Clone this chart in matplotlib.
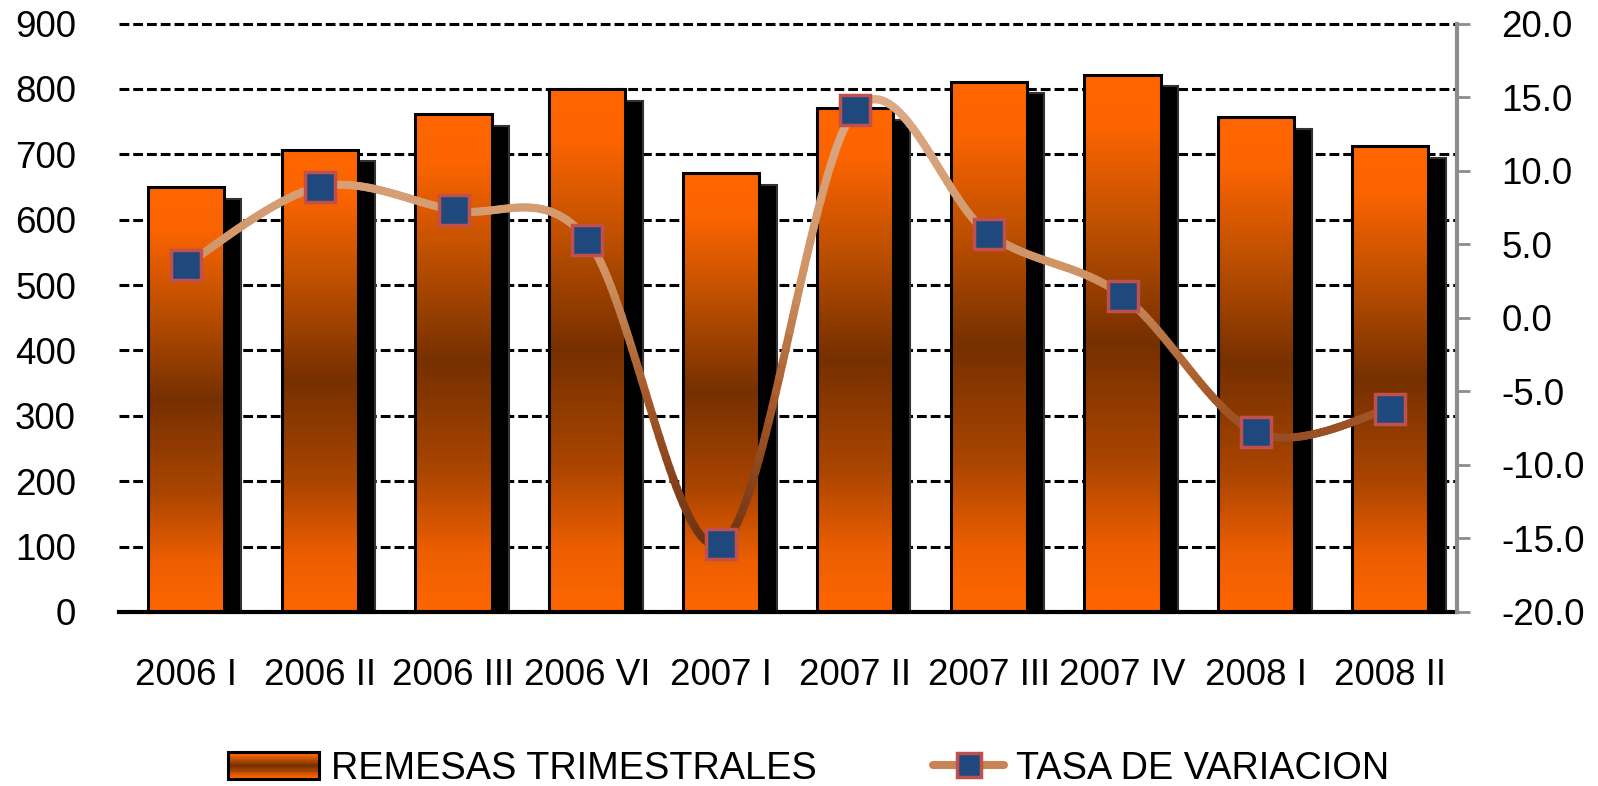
import numpy as np
import matplotlib
matplotlib.use("Agg")
import matplotlib.pyplot as plt
from matplotlib.colors import LinearSegmentedColormap
from matplotlib.collections import LineCollection
from matplotlib.patches import Rectangle
from matplotlib.lines import Line2D
from matplotlib.legend_handler import HandlerBase

plt.rcParams['font.family'] = ['Liberation Sans', 'DejaVu Sans']
plt.rcParams['font.size'] = 26.5

# data
periods = ['2006 I', '2006 II', '2006 III', '2006 VI', '2007 I',
           '2007 II', '2007 III', '2007 IV', '2008 I', '2008 II']
remesas = [650, 707, 762, 800, 671, 771, 811, 822, 757, 712]
tasa = [3.6, 8.9, 7.3, 5.3, -15.4, 14.1, 5.7, 1.5, -7.8, -6.2]

bar_label = 'REMESAS TRIMESTRALES'
line_label = 'TASA DE VARIACION'

# bar fill: orange -> dark brown in the middle -> orange
bar_cmap = LinearSegmentedColormap.from_list('bar', [
    (0.0, '#ff6600'), (0.1, '#fb6400'), (0.28, '#bf5000'), (0.5, '#763000'),
    (0.72, '#aa4500'), (0.88, '#ec5e00'), (1.0, '#ff6600')])
# line colour depends on height
line_cmap = LinearSegmentedColormap.from_list('line', [
    (0.0, '#6a3010'), (0.35, '#a85a2a'), (0.6, '#cf9262'), (1.0, '#dcab88')])


def smooth_curve(xs, ys, n=40):
    # excel style smoothed line (catmull-rom bezier)
    xs = np.asarray(xs, float)
    ys = np.asarray(ys, float)
    P = np.column_stack([xs, ys])
    P = np.vstack([P[0], P, P[-1]])
    out = []
    t = np.linspace(0, 1, n)[:, None]
    for i in range(1, len(P) - 2):
        p0, p3 = P[i], P[i + 1]
        p1 = p0 + (P[i + 1] - P[i - 1]) / 6
        p2 = p3 - (P[i + 2] - P[i]) / 6
        seg = ((1 - t) ** 3) * p0 + 3 * ((1 - t) ** 2) * t * p1 + 3 * (1 - t) * t ** 2 * p2 + t ** 3 * p3
        out.append(seg if i == 1 else seg[1:])
    return np.vstack(out)


fig = plt.figure(figsize=(15.98, 7.86), dpi=100)
ax = fig.add_axes([0.0745, 0.2214, 0.8373, 0.7487])

x = np.arange(len(periods))
w = 0.57
shadow_dx = 0.13
shadow_dy = 18

grad = np.linspace(0, 1, 256)[:, None]
for xi, v in zip(x, remesas):
    ax.add_patch(Rectangle((xi - w / 2 + shadow_dx, 0), w, v - shadow_dy,
                           facecolor='black', edgecolor='#333333', lw=1.5, zorder=2))
    ax.imshow(grad, cmap=bar_cmap, aspect='auto', origin='upper',
              extent=(xi - w / 2, xi + w / 2, 0, v), zorder=3)
    ax.add_patch(Rectangle((xi - w / 2, 0), w, v, facecolor='none',
                           edgecolor='black', lw=2.2, zorder=4))

ax.set_xlim(-0.5, len(periods) - 0.5)
ax.set_ylim(0, 900)
ax.set_yticks(range(0, 901, 100))
ax.set_xticks(x)
ax.set_xticklabels(periods)
ax.tick_params(axis='y', length=0, pad=31)
ax.tick_params(axis='x', length=0, pad=33)
ax.yaxis.grid(True, color='black', lw=2.2, linestyle=(0, (3.2, 1.3)))
ax.set_axisbelow(True)
for gl in ax.get_ygridlines():
    gl.set_clip_on(False)
for s in ['left', 'top', 'right']:
    ax.spines[s].set_visible(False)
ax.spines['bottom'].set_linewidth(3)
ax.spines['bottom'].set_zorder(6)

# variation rate on right axis
ax2 = ax.twinx()
ax2.set_ylim(-20, 20)
ax2.set_yticks(np.arange(-20, 21, 5))
ax2.set_yticklabels(['%.1f' % v for v in np.arange(-20, 21, 5)])
for s in ['left', 'top', 'bottom']:
    ax2.spines[s].set_visible(False)
ax2.spines['right'].set_color('#8c8c8c')
ax2.spines['right'].set_linewidth(3)
ax2.tick_params(axis='y', length=9, width=2, color='#8c8c8c', pad=23)

curve = smooth_curve(x, tasa)
segs = np.stack([curve[:-1], curve[1:]], axis=1)
mid_y = (curve[:-1, 1] + curve[1:, 1]) / 2
lc = LineCollection(segs, cmap=line_cmap, norm=plt.Normalize(-16, 15),
                    linewidths=5.8, capstyle='round', zorder=5)
lc.set_array(mid_y)
ax2.add_collection(lc)
ax2.plot(x, tasa, linestyle='none', marker='s', markersize=21,
         markerfacecolor='#1f497d', markeredgecolor='#c0504d', markeredgewidth=2.5, zorder=6)


class GradientBarHandler(HandlerBase):
    def create_artists(self, legend, orig_handle, xdescent, ydescent,
                       width, height, fontsize, trans):
        arts = []
        n = 20
        h = height * 1.0
        y0 = -ydescent + (height - h) / 2
        for k in range(n):
            c = bar_cmap(1 - (k + 0.5) / n)
            arts.append(Rectangle((-xdescent, y0 + k * h / n), width, h / n + 0.2,
                                  facecolor=c, edgecolor='none', transform=trans))
        arts.append(Rectangle((-xdescent, y0), width, h, facecolor='none',
                              edgecolor='black', lw=2.2, transform=trans))
        return arts


class ShortLineHandler(HandlerBase):
    def create_artists(self, legend, orig_handle, xdescent, ydescent,
                       width, height, fontsize, trans):
        x0 = -xdescent + width * 0.22
        x1 = -xdescent + width
        yc = -ydescent + height / 2
        ln = Line2D([x0, x1], [yc, yc], color='#c98456', lw=5.8,
                    solid_capstyle='round', transform=trans)
        mk = Line2D([(x0 + x1) / 2], [yc], linestyle='none', marker='s', markersize=17,
                    markerfacecolor='#1f497d', markeredgecolor='#c0504d',
                    markeredgewidth=2.5, transform=trans)
        return [ln, mk]


bar_handle = Rectangle((0, 0), 1, 1)
line_handle = Line2D([], [])
fig.legend([bar_handle, line_handle], [bar_label, line_label],
           handler_map={Rectangle: GradientBarHandler(), Line2D: ShortLineHandler()},
           loc='center', bbox_to_anchor=(0.506, 0.022), ncol=2, frameon=False,
           handlelength=2.4, handletextpad=0.3, columnspacing=2.55,
           borderaxespad=0, fontsize=27.3)

fig.savefig('out.png', dpi=100)
